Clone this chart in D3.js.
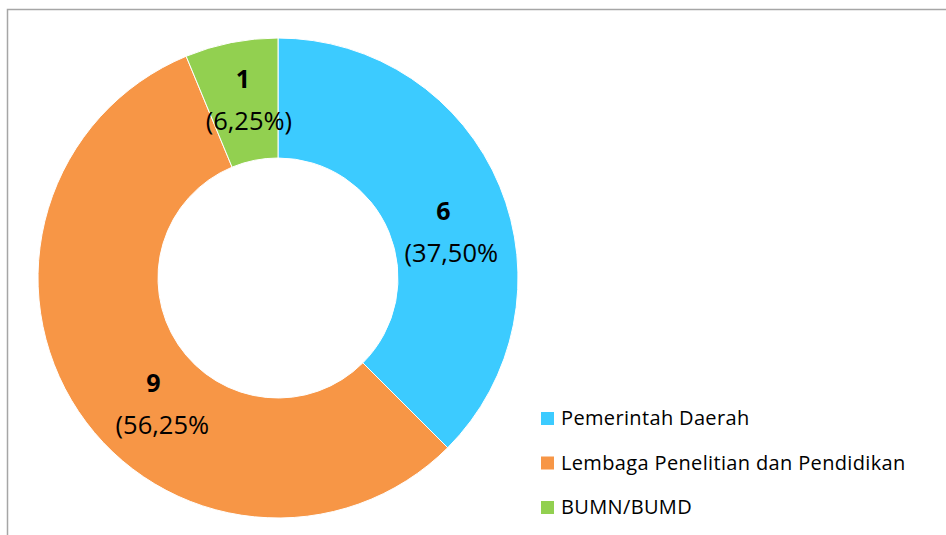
<!DOCTYPE html>
<html>
<head>
<meta charset="utf-8">
<script src="https://cdn.jsdelivr.net/npm/d3@7"></script>
<style>
  body { margin: 0; background: #fff; }
  svg { display: block; font-family: "Open Sans", Lato, sans-serif; }
</style>
</head>
<body>
<script>
// Chart data
var categories = ["Pemerintah Daerah", "Lembaga Penelitian dan Pendidikan", "BUMN/BUMD"];
var counts = [6, 9, 1];
var pctLabels = ["(37,50%", "(56,25%", "(6,25%)"];
var colors = ["#3ccbff", "#f79646", "#92d050"];

var w = 946, h = 535;
var cx = 278, cy = 278;
var outerR = 240, innerR = 120;

var svg = d3.select("body").append("svg")
    .attr("width", w)
    .attr("height", h);

// chart area frame (runs off the right/bottom edge)
svg.append("rect")
    .attr("x", 7.5).attr("y", 9.5)
    .attr("width", 960).attr("height", 560)
    .attr("fill", "none")
    .attr("stroke", "#a6a6a6")
    .attr("stroke-width", 1.5);

var dataset = categories.map(function(c, i) {
    return { name: c, value: counts[i], pct: pctLabels[i], color: colors[i] };
});

var pie = d3.pie()
    .sort(null)
    .value(function(d) { return d.value; });

var arc = d3.arc().innerRadius(innerR).outerRadius(outerR);
var labelArc = d3.arc().innerRadius(180).outerRadius(180);

var g = svg.append("g").attr("transform", "translate(" + cx + "," + cy + ")");

var arcs = pie(dataset);

g.selectAll("path")
    .data(arcs)
    .enter()
    .append("path")
    .attr("d", arc)
    .attr("fill", function(d) { return d.data.color; })
    .attr("stroke", "#fff")
    .attr("stroke-width", 1);

// nudges so labels sit where Excel put them
var nudge = [[-1, 11], [25, 14], [0, -13]];
var pctShift = [8, 9, 6];

var labels = g.selectAll("g.lbl")
    .data(arcs)
    .enter()
    .append("g")
    .attr("class", "lbl")
    .attr("transform", function(d, i) {
        var c = labelArc.centroid(d);
        return "translate(" + (c[0] + nudge[i][0]) + "," + (c[1] + nudge[i][1]) + ")";
    });

labels.append("text")
    .attr("text-anchor", "middle")
    .attr("font-size", 25)
    .attr("font-weight", "bold")
    .attr("fill", "#000")
    .text(function(d) { return d.data.value; });

labels.append("text")
    .attr("x", function(d, i) { return pctShift[i]; })
    .attr("y", 42)
    .attr("text-anchor", "middle")
    .attr("font-size", 25.5)
    .attr("fill", "#000")
    .text(function(d) { return d.data.pct; });

// legend
var legend = svg.selectAll("g.legend")
    .data(dataset)
    .enter()
    .append("g")
    .attr("class", "legend")
    .attr("transform", function(d, i) { return "translate(541," + (412 + i * 44.5) + ")"; });

legend.append("rect")
    .attr("width", 13).attr("height", 13)
    .attr("fill", function(d) { return d.color; });

legend.append("text")
    .attr("x", 20)
    .attr("y", 13)
    .attr("font-size", 20)
    .attr("letter-spacing", 0.35)
    .attr("fill", "#000")
    .text(function(d) { return d.name; });
</script>
</body>
</html>
